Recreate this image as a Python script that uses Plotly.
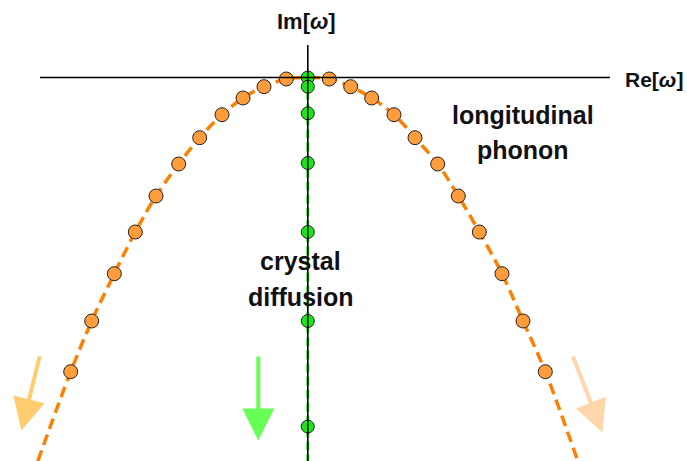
import plotly.graph_objects as go

# Longitudinal phonon poles (Re, Im)
phonon_re = [-2.371, -2.161, -1.935, -1.725, -1.518, -1.291, -1.081, -0.858, -0.648, -0.438, -0.215,
             0.215, 0.429, 0.639, 0.862, 1.072, 1.299, 1.505, 1.715, 1.942, 2.152, 2.375]
phonon_im = [-2.942, -2.435, -1.962, -1.545, -1.185, -0.865, -0.602, -0.372, -0.205, -0.092, -0.015,
             -0.015, -0.092, -0.205, -0.372, -0.602, -0.865, -1.185, -1.545, -1.962, -2.435, -2.942]

# Dispersion curve through the phonon poles
curve_re = [-2.70] + phonon_re[:11] + [0.0] + phonon_re[11:] + [2.70]
curve_im = [-3.835] + phonon_im[:11] + [0.0] + phonon_im[11:] + [-3.835]

# Crystal diffusion poles (purely imaginary)
diff_re = [0, 0, 0, 0, 0, 0, 0]
diff_im = [0.0, -0.092, -0.358, -0.855, -1.545, -2.435, -3.49]
diff_line_re = [0, 0]
diff_line_im = [0.0, -3.835]

fig = go.Figure()

fig.add_trace(go.Scatter(x=curve_re, y=curve_im, mode="lines", line_shape="spline",
                         line=dict(color="#FF8000", width=3.5, dash="11px,6px"),
                         hoverinfo="skip", showlegend=False))
fig.add_trace(go.Scatter(x=diff_line_re, y=diff_line_im, mode="lines",
                         line=dict(color="#2EDD2E", width=3, dash="9px,4px"),
                         hoverinfo="skip", showlegend=False))
fig.add_trace(go.Scatter(x=phonon_re, y=phonon_im, mode="markers",
                         marker=dict(size=14, color="#FF9D3C", line=dict(color="#222222", width=1)),
                         showlegend=False))
fig.add_trace(go.Scatter(x=diff_re, y=diff_im, mode="markers",
                         marker=dict(size=13, color="#12EA12", line=dict(color="#222222", width=1)),
                         showlegend=False))

# Axes drawn on top
fig.add_shape(type="line", x0=-2.678, x1=3.022, y0=0, y1=0, layer="above",
              line=dict(color="black", width=1.6))
fig.add_shape(type="line", x0=0, x1=0, y0=0.325, y1=-3.835, layer="above",
              line=dict(color="black", width=1.6))

font_b = dict(family="Liberation Sans, Arial, sans-serif", color="#111111")

annos = [
    dict(x=-0.01, y=0.56, text="<b>Im[<i>ω</i>]</b>", size=22),
    dict(x=3.46, y=-0.02, text="<b>Re[<i>ω</i>]</b>", size=21),
    dict(x=2.15, y=-0.375, text="<b>longitudinal</b>", size=25),
    dict(x=2.15, y=-0.72, text="<b>phonon</b>", size=25),
    dict(x=-0.07, y=-1.83, text="<b>crystal</b>", size=25),
    dict(x=-0.07, y=-2.19, text="<b>diffusion</b>", size=25),
]
for a in annos:
    fig.add_annotation(x=a["x"], y=a["y"], text=a["text"], showarrow=False,
                       xanchor="center", yanchor="middle",
                       font=dict(size=a["size"], **font_b))

# Arrows (tail -> tip)
arrows = [
    ((-2.678, -2.775), (-2.865, -3.53), "#FFCC70"),
    ((-0.495, -2.775), (-0.495, -3.63), "#66FF55"),
    ((2.645, -2.775), (2.947, -3.55), "#FFD5AA"),
]
for (tx, ty), (hx, hy), col in arrows:
    fig.add_annotation(x=hx, y=hy, ax=tx, ay=ty, xref="x", yref="y", axref="x", ayref="y",
                       text="", showarrow=True, arrowhead=2, arrowsize=1.6, arrowwidth=4,
                       arrowcolor=col)

fig.update_layout(
    width=687, height=461,
    margin=dict(l=0, r=0, t=0, b=0),
    paper_bgcolor="white", plot_bgcolor="white",
    xaxis=dict(range=[-3.078, 3.792], visible=False, fixedrange=True),
    yaxis=dict(range=[-3.835, 0.775], visible=False, fixedrange=True),
    showlegend=False,
)

fig.write_html("out.html", config={"displayModeBar": False},
               post_script="document.body.style.margin='0px';document.body.style.overflow='hidden';")
